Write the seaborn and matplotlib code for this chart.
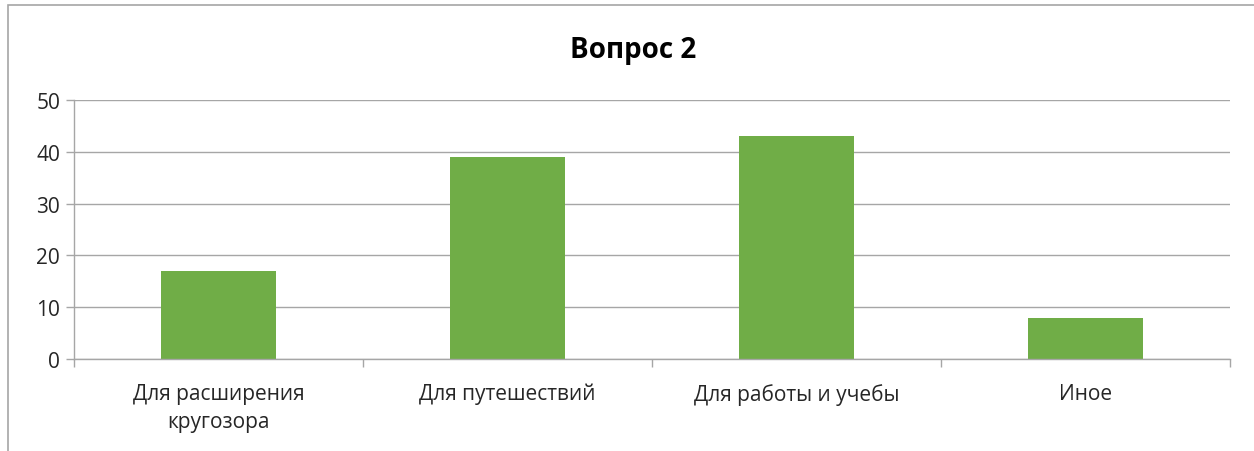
import matplotlib
matplotlib.use("Agg")
import matplotlib.pyplot as plt
import seaborn as sns
import pandas as pd
from matplotlib.patches import Rectangle

# data
categories = ["Для расширения\nкругозора", "Для путешествий", "Для работы и учебы", "Иное"]
values = [17, 39, 43, 8]
title = "Вопрос 2"

df = pd.DataFrame({"category": categories, "value": values})

sns.set_style("white")
plt.rcParams["font.family"] = ["Open Sans", "DejaVu Sans"]

fig = plt.figure(figsize=(12.54, 4.52), dpi=100)
ax = fig.add_axes([0.059, 0.2035, 0.922, 0.573])

sns.barplot(data=df, x="category", y="value", color="#70AD47", width=0.4,
            saturation=1, edgecolor="none", linewidth=0, ax=ax)

# chart border like excel
fig.patches.append(Rectangle((8 / 1254, -0.05), 1.1, 1 - 6 / 452 + 0.05,
                             transform=fig.transFigure, fill=False,
                             edgecolor="#A6A6A6", linewidth=1.2))

ax.set_ylim(0, 50)
ax.set_xlim(-0.5, 3.5)
ax.set_yticks(range(0, 51, 10))
ax.yaxis.grid(True, color="#A6A6A6", linewidth=1)
ax.set_axisbelow(True)
ax.set_xlabel("")
ax.set_ylabel("")

for side in ["top", "right"]:
    ax.spines[side].set_visible(False)
for side in ["left", "bottom"]:
    ax.spines[side].set_color("#A6A6A6")
    ax.spines[side].set_linewidth(1)

# ticks at category boundaries
ax.set_xticks([-0.5, 0.5, 1.5, 2.5, 3.5], minor=True)
ax.tick_params(axis="x", which="major", bottom=True, length=0, pad=17,
               labelsize=15, labelcolor="#262626")
ax.tick_params(axis="x", which="minor", bottom=True, length=6, color="#A6A6A6", width=1)
ax.tick_params(axis="y", left=True, length=6, color="#A6A6A6", width=1, pad=4,
               labelsize=15, labelcolor="#262626")
for lbl in ax.get_xticklabels():
    lbl.set_linespacing(1.45)

fig.text(0.505, 0.889, title, ha="center", va="center", fontsize=20,
         fontweight="bold", color="#000000")

fig.savefig("out.png", dpi=100)
